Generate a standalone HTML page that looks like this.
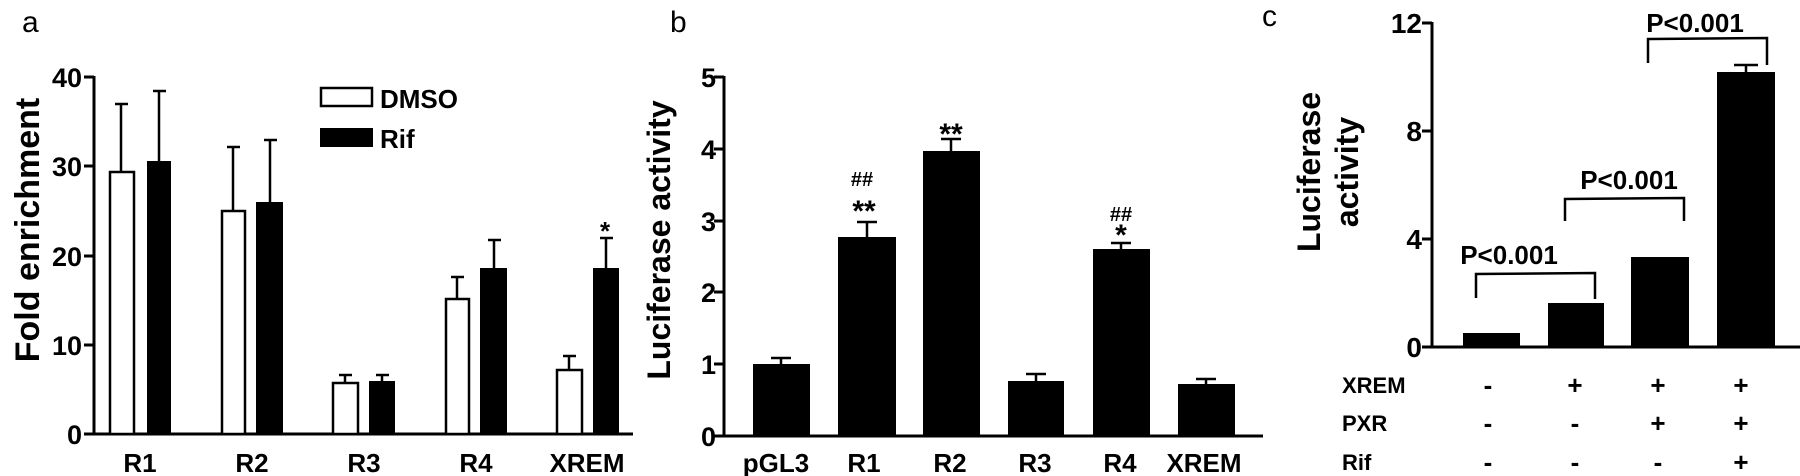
<!DOCTYPE html>
<html><head><meta charset="utf-8"><style>
html,body{margin:0;padding:0;background:#fff;}
svg{display:block;}
text{font-family:"Liberation Sans",Arial,sans-serif;}
.b{font-weight:bold;}
</style></head><body>
<svg width="1800" height="476" viewBox="0 0 1800 476" xmlns="http://www.w3.org/2000/svg">
<g stroke="#000" stroke-width="3" fill="none">
<line x1="94" y1="76" x2="94" y2="435"/>
<line x1="84" y1="434" x2="633" y2="434"/>
<line x1="84" y1="77" x2="94" y2="77"/><line x1="84" y1="166" x2="94" y2="166"/><line x1="84" y1="256" x2="94" y2="256"/><line x1="84" y1="345" x2="94" y2="345"/>
<line x1="724" y1="76" x2="724" y2="437"/>
<line x1="714" y1="436" x2="1263" y2="436"/>
<line x1="714" y1="77" x2="724" y2="77"/><line x1="714" y1="149" x2="724" y2="149"/><line x1="714" y1="221" x2="724" y2="221"/><line x1="714" y1="292" x2="724" y2="292"/><line x1="714" y1="364" x2="724" y2="364"/>
<line x1="1432" y1="22" x2="1432" y2="348"/>
<line x1="1422" y1="347" x2="1800" y2="347"/>
<line x1="1422" y1="23" x2="1432" y2="23"/><line x1="1422" y1="131" x2="1432" y2="131"/><line x1="1422" y1="239" x2="1432" y2="239"/>
</g>
<g stroke="#000" stroke-width="2.5">
<line x1="121" y1="172" x2="121" y2="104"/><line x1="115" y1="104" x2="128" y2="104"/>
<line x1="159" y1="161" x2="159" y2="91"/><line x1="153" y1="91" x2="166" y2="91"/>
<line x1="233" y1="211" x2="233" y2="147"/><line x1="227" y1="147" x2="240" y2="147"/>
<line x1="270" y1="202" x2="270" y2="140"/><line x1="264" y1="140" x2="277" y2="140"/>
<line x1="345" y1="383" x2="345" y2="375"/><line x1="339" y1="375" x2="352" y2="375"/>
<line x1="382" y1="381" x2="382" y2="375"/><line x1="376" y1="375" x2="389" y2="375"/>
<line x1="457" y1="299" x2="457" y2="277"/><line x1="451" y1="277" x2="464" y2="277"/>
<line x1="494" y1="268" x2="494" y2="240"/><line x1="488" y1="240" x2="501" y2="240"/>
<line x1="569" y1="370" x2="569" y2="356"/><line x1="563" y1="356" x2="576" y2="356"/>
<line x1="606" y1="268" x2="606" y2="238"/><line x1="600" y1="238" x2="613" y2="238"/>
</g>
<g stroke="#000" stroke-width="2.5" fill="#fff">
<rect x="110" y="172" width="24" height="262"/>
<rect x="222" y="211" width="23" height="223"/>
<rect x="333" y="383" width="25" height="51"/>
<rect x="446" y="299" width="23" height="135"/>
<rect x="557" y="370" width="25" height="64"/>
<rect x="321" y="88" width="51" height="18"/>
</g>
<g fill="#000">
<rect x="147" y="161" width="24" height="273"/>
<rect x="256" y="202" width="27" height="232"/>
<rect x="369" y="381" width="26" height="53"/>
<rect x="480" y="268" width="27" height="166"/>
<rect x="593" y="268" width="26" height="166"/>
<rect x="320" y="128" width="53" height="19"/>
</g>
<g class="b" font-size="26" fill="#000">
<text x="380" y="108">DMSO</text>
<text x="380" y="148">Rif</text>
</g>
<g class="b" font-size="27" fill="#000" text-anchor="end">
<text x="82" y="87">40</text><text x="82" y="176">30</text><text x="82" y="266">20</text><text x="82" y="355">10</text><text x="82" y="444">0</text>
</g>
<g class="b" font-size="26" fill="#000" text-anchor="middle">
<text x="140" y="472">R1</text><text x="252" y="472">R2</text><text x="364" y="472">R3</text><text x="476" y="472">R4</text><text x="587" y="472">XREM</text>
<text x="605" y="240">*</text>
</g>
<text class="b" font-size="34" text-anchor="middle" transform="translate(39,230) rotate(-90)">Fold enrichment</text>
<text font-size="30" x="22" y="32">a</text>

<g stroke="#000" stroke-width="2.5">
<line x1="781" y1="364" x2="781" y2="358"/><line x1="771" y1="358" x2="791" y2="358"/>
<line x1="867" y1="237" x2="867" y2="222"/><line x1="857" y1="222" x2="877" y2="222"/>
<line x1="951" y1="151" x2="951" y2="139"/><line x1="941" y1="139" x2="961" y2="139"/>
<line x1="1036" y1="381" x2="1036" y2="374"/><line x1="1026" y1="374" x2="1046" y2="374"/>
<line x1="1121" y1="249" x2="1121" y2="243"/><line x1="1111" y1="243" x2="1131" y2="243"/>
<line x1="1206" y1="384" x2="1206" y2="379"/><line x1="1196" y1="379" x2="1216" y2="379"/>
</g>
<g fill="#000">
<rect x="753" y="364" width="57" height="72"/>
<rect x="838" y="237" width="58" height="199"/>
<rect x="923" y="151" width="57" height="285"/>
<rect x="1008" y="381" width="56" height="55"/>
<rect x="1093" y="249" width="57" height="187"/>
<rect x="1178" y="384" width="57" height="52"/>
</g>
<g class="b" font-size="27" fill="#000" text-anchor="end">
<text x="716" y="87">5</text><text x="716" y="159">4</text><text x="716" y="231">3</text><text x="716" y="302">2</text><text x="716" y="374">1</text><text x="716" y="446">0</text>
</g>
<g class="b" font-size="26" fill="#000" text-anchor="middle">
<text x="776" y="472">pGL3</text><text x="864" y="472">R1</text><text x="950" y="472">R2</text><text x="1035" y="472">R3</text><text x="1120" y="472">R4</text><text x="1204" y="472">XREM</text>
<text x="951" y="144" font-size="30">**</text>
<text x="864" y="221" font-size="30">**</text>
<text x="862" y="186" font-size="20">##</text>
<text x="1121" y="221" font-size="20">##</text>
<text x="1121" y="245" font-size="30">*</text>
</g>
<text class="b" font-size="32" text-anchor="middle" transform="translate(670,240) rotate(-90)">Luciferase activity</text>
<text font-size="30" x="670" y="32">b</text>

<g fill="#000">
<rect x="1463" y="333" width="57" height="14"/>
<rect x="1548" y="303" width="56" height="44"/>
<rect x="1631" y="257" width="58" height="90"/>
<rect x="1717" y="72" width="58" height="275"/>
</g>
<g stroke="#000" stroke-width="2.5" fill="none">
<line x1="1746" y1="72" x2="1746" y2="65"/><line x1="1734" y1="65" x2="1758" y2="65"/>
<polyline points="1476,298 1476,274 1595,273 1595,299"/>
<polyline points="1565,221 1565,199 1684,198 1684,221"/>
<polyline points="1648,63 1648,39 1767,38 1767,65"/>
</g>
<g class="b" font-size="26" fill="#000" text-anchor="middle">
<text x="1509" y="264">P&lt;0.001</text>
<text x="1629" y="189">P&lt;0.001</text>
<text x="1695" y="32">P&lt;0.001</text>
</g>
<g class="b" font-size="28" fill="#000" text-anchor="end">
<text x="1422" y="33">12</text><text x="1422" y="141">8</text><text x="1422" y="249">4</text><text x="1422" y="357">0</text>
</g>
<g class="b" font-size="22" fill="#000">
<text x="1342" y="393">XREM</text><text x="1342" y="431">PXR</text><text x="1342" y="470">Rif</text>
</g>
<g class="b" font-size="26" fill="#000" text-anchor="middle">
<text x="1488" y="394">-</text><text x="1575" y="394">+</text><text x="1658" y="394">+</text><text x="1741" y="394">+</text>
<text x="1488" y="432">-</text><text x="1575" y="432">-</text><text x="1658" y="432">+</text><text x="1741" y="432">+</text>
<text x="1488" y="471">-</text><text x="1575" y="471">-</text><text x="1658" y="471">-</text><text x="1741" y="471">+</text>
</g>
<text class="b" font-size="32" text-anchor="middle" transform="translate(1320,172) rotate(-90)">Luciferase</text>
<text class="b" font-size="32" text-anchor="middle" transform="translate(1358,172) rotate(-90)">activity</text>
<text font-size="30" x="1262" y="26">c</text>
</svg>
</body></html>
